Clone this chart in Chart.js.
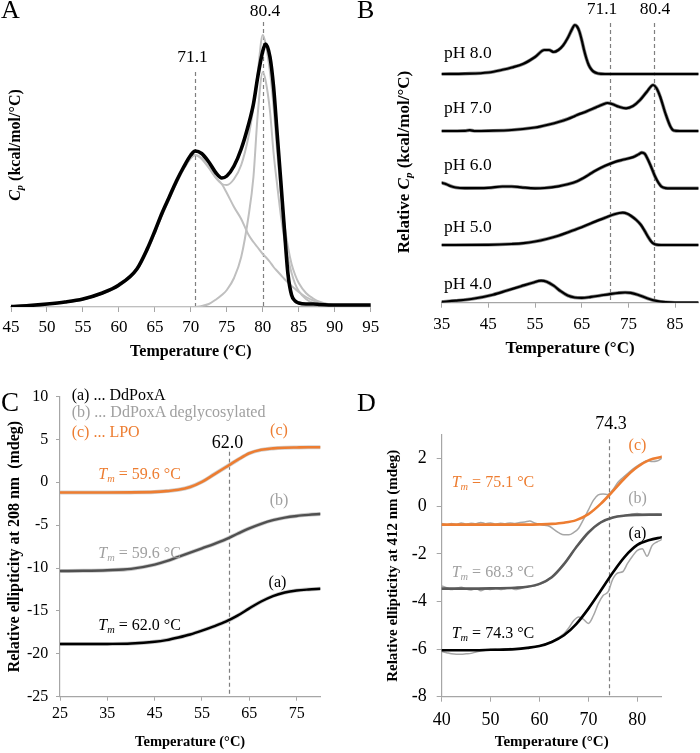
<!DOCTYPE html>
<html><head><meta charset="utf-8">
<script src="https://cdn.jsdelivr.net/npm/chart.js@4.4.0/dist/chart.umd.min.js"></script>
<style>
body{margin:0;width:700px;height:753px;overflow:hidden;position:relative;background:#fff;font-family:"Liberation Serif","Times New Roman",serif;color:#000;}
canvas{position:absolute;}
.t{position:absolute;white-space:nowrap;line-height:1;}
.c{transform:translate(-50%,-50%);}
.l{transform:translate(0,-50%);}
.r{transform:translate(-50%,-50%) rotate(-90deg);}
.t sub{font-size:0.65em;vertical-align:-0.3em;line-height:0;}
.g{color:#A0A0A0;}
.o{color:#ED7D31;}
</style></head><body>
<canvas id="cA" width="385" height="375" style="left:0;top:0"></canvas>
<canvas id="cB" width="320" height="375" style="left:380px;top:0"></canvas>
<canvas id="cC" width="340" height="373" style="left:0;top:380px"></canvas>
<canvas id="cD" width="340" height="373" style="left:360px;top:380px"></canvas>

<!-- Panel A texts -->
<div class="t l" style="left:1px;top:10px;font-size:26px">A</div>
<div class="t c" style="left:265px;top:11px;font-size:17.5px">80.4</div>
<div class="t c" style="left:192.5px;top:57px;font-size:17.5px">71.1</div>
<div class="t r" style="left:15px;top:145px;font-size:16px;font-weight:bold"><i>C<sub>p</sub></i> (kcal/mol/°C)</div>

<!-- Panel B texts -->
<div class="t l" style="left:357px;top:10px;font-size:26px">B</div>
<div class="t c" style="left:602px;top:9px;font-size:17.5px">71.1</div>
<div class="t c" style="left:655px;top:9px;font-size:17.5px">80.4</div>
<div class="t l" style="left:444px;top:53.3px;font-size:17.5px">pH 8.0</div>
<div class="t l" style="left:444px;top:107.7px;font-size:17.5px">pH 7.0</div>
<div class="t l" style="left:444px;top:165px;font-size:17.5px">pH 6.0</div>
<div class="t l" style="left:444px;top:226.7px;font-size:17.5px">pH 5.0</div>
<div class="t l" style="left:444px;top:284px;font-size:17.5px">pH 4.0</div>
<div class="t r" style="left:403.3px;top:161.7px;font-size:17px;font-weight:bold">Relative <i>C<sub>p</sub></i> (kcal/mol/°C)</div>

<!-- Panel C texts -->
<div class="t l" style="left:1px;top:402px;font-size:27px">C</div>
<div class="t l" style="left:71.7px;top:395px;font-size:16px">(a) ... DdPoxA</div>
<div class="t l g" style="left:71.7px;top:412.3px;font-size:16px">(b) ... DdPoxA deglycosylated</div>
<div class="t l o" style="left:71.7px;top:431.7px;font-size:16px">(c) ... LPO</div>
<div class="t c o" style="left:279px;top:430px;font-size:16px">(c)</div>
<div class="t c" style="left:227.5px;top:441.7px;font-size:18px">62.0</div>
<div class="t l o" style="left:98.3px;top:474.3px;font-size:16px"><i>T<sub>m</sub></i> = 59.6 °C</div>
<div class="t c g" style="left:279px;top:500px;font-size:16px">(b)</div>
<div class="t l g" style="left:98.3px;top:553.3px;font-size:16px"><i>T<sub>m</sub></i> = 59.6 °C</div>
<div class="t c" style="left:277.5px;top:581.7px;font-size:16px">(a)</div>
<div class="t l" style="left:98.3px;top:625px;font-size:16px"><i>T<sub>m</sub></i> = 62.0 °C</div>

<!-- Panel D texts -->
<div class="t l" style="left:357px;top:402.5px;font-size:26px">D</div>
<div class="t c" style="left:611px;top:423.3px;font-size:18px">74.3</div>
<div class="t c o" style="left:637.5px;top:445px;font-size:16px">(c)</div>
<div class="t l o" style="left:451.7px;top:481.7px;font-size:16px"><i>T<sub>m</sub></i> = 75.1 °C</div>
<div class="t c g" style="left:637.5px;top:498.3px;font-size:16px">(b)</div>
<div class="t c" style="left:637.5px;top:533.3px;font-size:16px">(a)</div>
<div class="t l g" style="left:451.7px;top:571.7px;font-size:16px"><i>T<sub>m</sub></i> = 68.3 °C</div>
<div class="t l" style="left:451.7px;top:633.3px;font-size:16px"><i>T<sub>m</sub></i> = 74.3 °C</div>

<script>
// ---------- Panel A: DSC thermogram ----------
const tempsA = [45,47.5,50,52.5,55,57.5,60,62.5,64,65,66,67,68,69,70,70.6,71.5,72.5,73.5,74.3,75,76,77,78,78.7,79.3,80,80.4,81,81.5,82,82.5,83,83.5,84,84.5,85,86,87,88,90,92.5,95];
const cpData  = [0.05,0.15,0.3,0.5,0.8,1.35,2.2,3.8,5.9,7.6,9.4,11.0,12.6,14.0,15.2,15.6,15.35,14.5,13.4,12.9,13.1,14.1,15.8,18.2,20.3,23.0,25.6,26.3,25.0,22.0,17.3,12.6,7.8,3.3,1.2,0.6,0.4,0.3,0.3,0.25,0.2,0.2,0.2];
const cpFit   = [0.05,0.15,0.28,0.48,0.75,1.3,2.1,3.7,5.7,7.4,9.2,10.8,12.4,13.8,14.9,15.2,14.9,14.0,12.9,12.3,12.2,12.8,14.2,17.0,20.0,23.5,27.2,26.3,23.5,20.0,15.5,11.5,8.3,6.0,4.3,3.2,2.4,1.4,0.85,0.5,0.18,0.06,0.02];
const cpComp1 = [0.05,0.15,0.28,0.48,0.75,1.3,2.1,3.7,5.7,7.4,9.2,10.8,12.4,13.8,14.9,15.2,14.8,13.9,12.9,12.3,11.4,10.0,8.8,7.25,6.5,5.95,5.3,5.0,4.5,4.0,3.6,3.2,2.8,2.45,2.1,1.8,1.5,1.0,0.65,0.42,0.15,0.05,0.02];
const cpComp2 = [0,0,0,0,0,0,0,0,0,0,0,0,0,0,0,0,0.1,0.3,0.75,1.2,1.7,2.9,5.0,9.0,13.0,19.3,23.5,22.6,19.6,15.4,12.2,9.2,6.8,4.9,3.4,2.3,1.6,0.8,0.4,0.2,0.06,0.02,0];
const ticksA = [45,50,55,60,65,70,75,80,85,90,95];

// ---------- Panel B: DSC at different pH (relative Cp above each baseline) ----------
const tempsPH4 = [35,38,42,46,49,52,54.5,56.3,57.5,59,60.5,62,63.5,65,67,69,71,73,74.3,75.5,77,79,81,83,85,90];
const cpPH4    = [0.08,0.2,0.42,0.8,1.22,1.65,2.0,2.2,2.1,1.7,1.15,0.72,0.52,0.48,0.58,0.72,0.86,0.98,1.02,0.98,0.8,0.45,0.18,0.05,0,0];
const tempsPH5 = [35,45,50,52.5,55,57.5,60,62.5,63.4,65,67,70,72,73.8,74.8,75.6,76.7,77.7,78.5,79.2,79.8,80.3,81,82,90];
const cpPH5    = [0,0.02,0.1,0.18,0.35,0.6,0.92,1.35,1.5,1.78,2.17,2.72,3.08,3.23,3.12,2.9,2.5,2.0,1.4,0.83,0.4,0.17,0.03,0,0];
const tempsPH6 = [35,36,37,38,40,45,48,50,52,55,57,60,62,64,66,67,68,70,72,74,76,77.2,77.9,78.5,79.2,80,80.6,81.1,81.6,82.1,83,84,90];
const cpPH6    = [0.55,0.4,0.2,0.08,0.02,0.05,0.18,0.18,0.1,0,0.03,0.2,0.4,0.7,1.2,1.5,1.78,2.25,2.62,2.88,3.12,3.4,3.57,3.45,2.85,2.0,1.3,0.83,0.45,0.17,0.02,0,0];
const tempsPH7 = [35,40,41,42,45,50,55,56,58,60,62,63.2,64,66,68,69.5,70.5,71.5,73,74.5,76,77.5,79,80.3,81,81.8,82.9,84,84.7,86,90];
const cpPH7    = [0,0.02,0.08,0,0.02,0.1,0.35,0.43,0.65,0.9,1.2,1.43,1.6,1.95,2.35,2.65,2.8,2.7,2.42,2.27,2.5,3.1,3.95,4.6,4.3,3.45,1.8,0.45,0.05,0,0];
const tempsPH8 = [35,40,45,48,50,52.5,55,57,58,59,60,61,62,63,63.5,64,64.5,65,65.5,66,66.5,67,67.5,68.5,70,80,90];
const cpPH8    = [0,0.03,0.15,0.42,0.65,1.02,1.7,2.4,2.4,2.2,2.4,2.85,3.6,4.55,4.9,4.75,4.25,3.4,2.4,1.55,0.9,0.5,0.25,0.05,0,0,0];
const stackOffsetsB = [0, 5.77, 11.44, 17.17, 22.87];
const ticksB = [35,45,55,65,75,85];

// ---------- Panel C: CD at 208 nm ----------
const tempsC = [25,30,35,40,45,47.5,50,52.5,55,57.5,60,62.5,65,67.5,70,72.5,75,77.5,80];
const lpoC   = [-1.2,-1.2,-1.2,-1.18,-1.12,-1.03,-0.88,-0.55,0.05,0.9,1.75,2.6,3.38,3.78,3.95,4.03,4.06,4.08,4.08];
const deglyC = [-10.35,-10.32,-10.25,-10.1,-9.6,-9.2,-8.7,-8.2,-7.7,-7.2,-6.65,-6.0,-5.38,-4.85,-4.42,-4.12,-3.93,-3.8,-3.7];
const ddC    = [-18.86,-18.86,-18.85,-18.8,-18.6,-18.4,-18.1,-17.75,-17.3,-16.8,-16.25,-15.55,-14.7,-13.9,-13.26,-12.85,-12.62,-12.5,-12.42];
const ticksCx = [25,35,45,55,65,75];
const ticksCy = [-25,-20,-15,-10,-5,0,5,10];

// ---------- Panel D: CD at 412 nm ----------
const tempsDfit = [40,45,50,55,57.5,60,62.5,65,67.5,70,72.5,75,77.5,80,82.5,85];
const lpoDfit   = [-0.77,-0.77,-0.77,-0.77,-0.77,-0.76,-0.74,-0.69,-0.58,-0.33,0.1,0.64,1.2,1.65,1.95,2.08];
const deglyDfit = [-3.46,-3.46,-3.45,-3.42,-3.38,-3.26,-2.98,-2.43,-1.72,-1.1,-0.68,-0.47,-0.39,-0.36,-0.35,-0.35];
const ddDfit    = [-6.05,-6.05,-6.03,-6.0,-5.95,-5.87,-5.7,-5.42,-4.95,-4.3,-3.55,-2.78,-2.1,-1.62,-1.42,-1.3];
const tempsDraw = [40,41,42,43,44,45,46,47,48,49,50,51,52,53,54,55,56,57,58,59,60,61,62,63,64,65,66,67,68,69,70,71,72,73,74,75,76,77,78,79,80,81,82,83,84,85];
const lpoDraw   = [-0.72,-0.78,-0.72,-0.76,-0.7,-0.75,-0.71,-0.73,-0.68,-0.73,-0.7,-0.75,-0.71,-0.73,-0.7,-0.72,-0.68,-0.66,-0.62,-0.7,-0.76,-0.8,-0.84,-0.98,-1.12,-1.2,-1.2,-1.1,-0.92,-0.55,-0.15,0.25,0.48,0.52,0.5,0.7,1.0,1.2,1.38,1.55,1.7,1.82,1.92,1.88,1.9,2.02];
const deglyDraw = [-3.35,-3.42,-3.5,-3.44,-3.4,-3.48,-3.52,-3.46,-3.55,-3.47,-3.5,-3.44,-3.5,-3.46,-3.42,-3.5,-3.46,-3.4,-3.36,-3.35,-3.28,-3.2,-3.05,-2.88,-2.65,-2.4,-2.15,-1.85,-1.6,-1.35,-1.1,-0.9,-0.72,-0.62,-0.55,-0.48,-0.42,-0.4,-0.38,-0.32,-0.3,-0.35,-0.38,-0.36,-0.34,-0.36];
const ddDraw    = [-6.1,-6.15,-6.2,-6.22,-6.22,-6.2,-6.18,-6.12,-6.08,-6.05,-6.02,-6.0,-6.02,-6.0,-5.98,-6.0,-5.98,-5.95,-5.92,-5.9,-5.86,-5.8,-5.72,-5.62,-5.5,-5.35,-5.1,-4.8,-4.65,-4.75,-4.92,-4.6,-4.1,-3.75,-3.6,-3.05,-2.8,-2.75,-2.4,-2.1,-1.85,-1.78,-2.1,-1.65,-1.5,-1.4];
const ticksDx = [40,50,60,70,80];
const ticksDy = [-8,-6,-4,-2,0,2];

// ---------- helpers ----------
const FONT = '"Liberation Serif","Times New Roman",serif';
const AXC = '#A6A6A6';
const ORANGE = '#ED7D31';

const pts = (xs, ys, off) => xs.map((x, i) => ({x: x, y: ys[i] + (off || 0)}));
const line = (data, color, width) => ({
  data, borderColor: color, borderWidth: width, pointRadius: 0, fill: false,
  cubicInterpolationMode: 'monotone', borderJoinStyle: 'round', borderCapStyle: 'round'
});

const vlinePlugin = {
  id: 'vlines',
  defaults: {lines: [], color: '#7F7F7F', width: 1.2, dash: [4, 3]},
  beforeDatasetsDraw(chart, args, opts) {
    if (!opts.lines || !opts.lines.length) return;
    const {ctx, chartArea, scales} = chart;
    ctx.save();
    ctx.strokeStyle = opts.color; ctx.lineWidth = opts.width; ctx.setLineDash(opts.dash);
    opts.lines.forEach(l => {
      const px = Math.round(scales.x.getPixelForValue(l.x)) + 0.5;
      ctx.beginPath();
      ctx.moveTo(px, scales.y.getPixelForValue(l.top));
      ctx.lineTo(px, chartArea.bottom);
      ctx.stroke();
    });
    ctx.restore();
  }
};
Chart.register(vlinePlugin);

function xScale(o) {
  return {
    type: 'linear', min: o.min, max: o.max,
    afterBuildTicks: s => { s.ticks = o.ticks.map(v => ({value: v})); },
    afterFit: s => { s.height = o.h; s.paddingLeft = 0; s.paddingRight = 0; },
    border: {display: true, color: AXC, width: 1.2},
    grid: {display: true, drawOnChartArea: false, drawTicks: true, tickLength: o.tl, color: AXC, lineWidth: 1},
    ticks: {font: {family: FONT, size: o.size}, color: '#000', padding: o.pad, maxRotation: 0, autoSkip: false},
    title: {display: true, text: 'Temperature (°C)', color: '#000',
            font: {family: FONT, size: o.tsize, weight: 'bold'}, padding: {top: 0, bottom: o.tpad}}
  };
}
function yScale(o) {
  return {
    type: 'linear', min: o.min, max: o.max,
    afterBuildTicks: s => { s.ticks = o.ticks.map(v => ({value: v})); },
    afterFit: s => { s.width = o.w; s.paddingTop = 0; s.paddingBottom = 0; },
    border: {display: true, color: AXC, width: 1.2},
    grid: {display: true, drawOnChartArea: false, drawTicks: true, tickLength: o.tl, color: AXC, lineWidth: 1},
    ticks: {font: {family: FONT, size: o.size}, color: '#000', padding: o.pad, autoSkip: false},
    title: {display: true, text: o.title, color: '#000',
            font: {family: FONT, size: o.tsize, weight: 'bold'}, padding: {top: o.tpad, bottom: 0}}
  };
}
function base(extra) {
  return Object.assign({
    responsive: false, animation: false, events: [],
    plugins: Object.assign({legend: {display: false}, tooltip: {enabled: false}}, extra.plugins || {}),
  }, {layout: extra.layout, scales: extra.scales});
}

// ---------- Chart A ----------
new Chart(document.getElementById('cA'), {
  type: 'line',
  data: {datasets: [
    line(pts(tempsA, cpData), '#000', 3.6),
    line(pts(tempsA, cpFit), '#BFBFBF', 2),
    line(pts(tempsA, cpComp1), '#BFBFBF', 2),
    line(pts(tempsA, cpComp2), '#BFBFBF', 2)
  ]},
  options: base({
    layout: {padding: {left: 11, top: 7, right: 14.3, bottom: 0}},
    scales: {
      x: xScale({min: 45, max: 95, ticks: ticksA, h: 68, tl: 5, size: 17, pad: 5.8, tsize: 16, tpad: 13.4}),
      y: {display: false, min: 0, max: 30}
    },
    plugins: {vlines: {lines: [{x: 70.6, top: 23.5}, {x: 80.0, top: 28.5}]}}
  })
});

// ---------- Chart B ----------
const phSets = [[tempsPH4, cpPH4], [tempsPH5, cpPH5], [tempsPH6, cpPH6], [tempsPH7, cpPH7], [tempsPH8, cpPH8]];
const dsB = [];
phSets.forEach((p, i) => dsB.push(line(pts(p[0], p[1], stackOffsetsB[i]), '#000', 2.2)));
phSets.forEach((p, i) => dsB.push(line(pts(p[0], p[1], stackOffsetsB[i]), '#8C8C8C', 3.6)));
new Chart(document.getElementById('cB'), {
  type: 'line',
  data: {datasets: dsB},
  options: base({
    layout: {padding: {left: 61.7, top: 2.7, right: 1.6, bottom: 0}},
    scales: {
      x: xScale({min: 35, max: 90, ticks: ticksB, h: 72.3, tl: 5, size: 17, pad: 7.1, tsize: 17, tpad: 15.8}),
      y: {display: false, min: 0, max: 30}
    },
    plugins: {vlines: {lines: [{x: 71.0, top: 27.97}, {x: 80.5, top: 27.97}]}}
  })
});

// ---------- Chart C ----------
new Chart(document.getElementById('cC'), {
  type: 'line',
  data: {datasets: [
    line(pts(tempsC, lpoC), ORANGE, 2.6),
    line(pts(tempsC, deglyC), '#505050', 2.4),
    line(pts(tempsC, ddC), '#000', 2.4),
    line(pts(tempsC, lpoC), '#D0D0D0', 4),
    line(pts(tempsC, deglyC), '#C8C8C8', 4),
    line(pts(tempsC, ddC), '#C8C8C8', 4)
  ]},
  options: base({
    layout: {padding: {left: 0, top: 16.5, right: 19.7, bottom: 0}},
    scales: {
      x: xScale({min: 25, max: 80, ticks: ticksCx, h: 56.3, tl: 4, size: 16, pad: 3, tsize: 14.5, tpad: 2.4}),
      y: yScale({min: -25, max: 10, ticks: ticksCy, w: 60, tl: 4, size: 16, pad: 7.7, tsize: 16, tpad: 5.4,
                 title: 'Relative ellipticity at 208 nm  (mdeg)'})
    },
    plugins: {vlines: {lines: [{x: 60.7, top: 3.57}]}}
  })
});

// ---------- Chart D ----------
new Chart(document.getElementById('cD'), {
  type: 'line',
  data: {datasets: [
    line(pts(tempsDfit, lpoDfit), ORANGE, 2.6),
    line(pts(tempsDfit, deglyDfit), '#595959', 2.6),
    line(pts(tempsDfit, ddDfit), '#000', 2.6),
    line(pts(tempsDraw, lpoDraw), '#A6A6A6', 1.5),
    line(pts(tempsDraw, deglyDraw), '#A6A6A6', 1.5),
    line(pts(tempsDraw, ddDraw), '#A6A6A6', 1.5)
  ]},
  options: base({
    layout: {padding: {left: 0, top: 54.9, right: 38.2, bottom: 0}},
    scales: {
      x: xScale({min: 40, max: 85, ticks: ticksDx, h: 56.3, tl: 5, size: 18, pad: 7.5, tsize: 15, tpad: 2.3}),
      y: yScale({min: -8, max: 3, ticks: ticksDy, w: 81.7, tl: 5, size: 18, pad: 10, tsize: 15, tpad: 24,
                 title: 'Relative ellipticity at 412 nm (mdeg)'})
    },
    plugins: {vlines: {lines: [{x: 74.3, top: 2.82}]}}
  })
});
</script>
</body></html>
